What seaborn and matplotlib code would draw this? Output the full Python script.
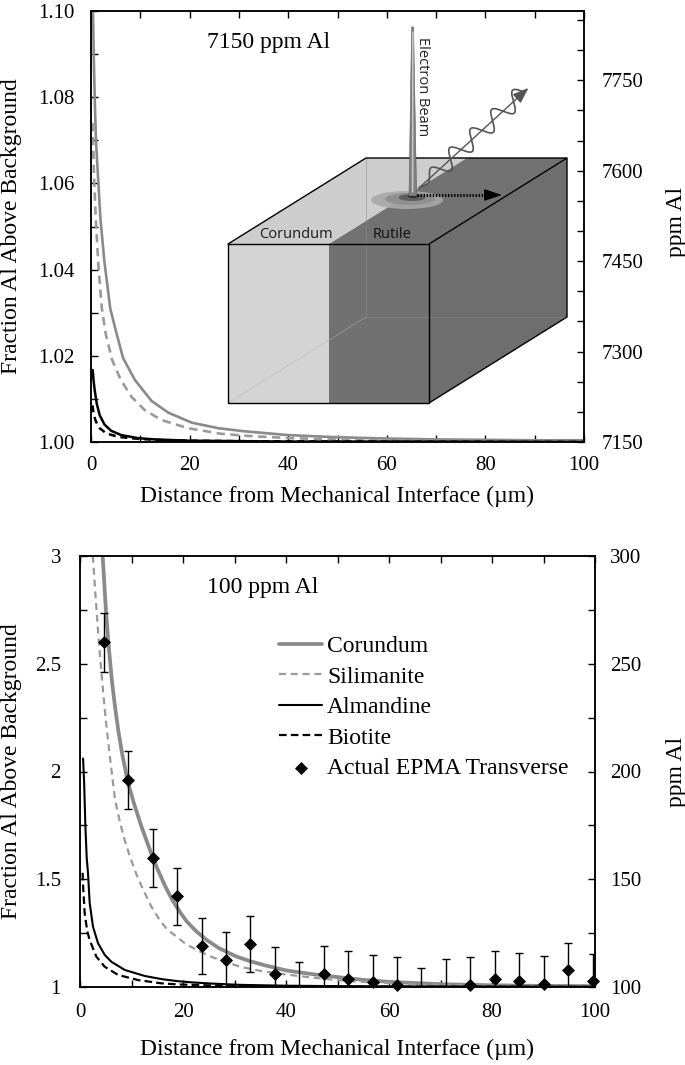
import numpy as np
import matplotlib
matplotlib.use("Agg")
import matplotlib.pyplot as plt
import seaborn as sns
from matplotlib.patches import Polygon, Ellipse

# ---------------- data: top panel (7150 ppm Al) ----------------
top_cor_x = [0.4, 0.55, 0.75, 1.0, 1.4, 1.9, 2.7, 3.9, 5.0, 6.5, 8.9, 12.3, 15.7, 20.4, 25.8, 31, 40, 50, 60, 70, 80, 90, 100]
top_cor_y = [1.10, 1.09, 1.08, 1.07, 1.062, 1.052, 1.042, 1.031, 1.026, 1.0195, 1.0144, 1.0095, 1.0068, 1.0045, 1.0032,
             1.0025, 1.0016, 1.0011, 1.0008, 1.0006, 1.0005, 1.0004, 1.0004]
top_sil_x = [0.3, 0.5, 0.7, 1.0, 1.5, 2.2, 3.0, 4.3, 6.0, 8.2, 10.9, 14.3, 19.7, 26.4, 32, 40, 50, 60, 70, 80, 100]
top_sil_y = [1.074, 1.066, 1.059, 1.051, 1.041, 1.031, 1.025, 1.019, 1.0145, 1.0105, 1.0074, 1.0051, 1.0032, 1.0019,
             1.0014, 1.0009, 1.0006, 1.0004, 1.0003, 1.0002, 1.0002]
top_alm_x = [0.35, 0.5, 0.74, 1.15, 1.76, 2.77, 4.1, 6.15, 9.5, 12.9, 20, 30, 40, 60, 100]
top_alm_y = [1.0167, 1.0145, 1.0121, 1.0090, 1.0062, 1.0040, 1.0026, 1.0016, 1.0009, 1.0006, 1.0003, 1.0002, 1.0001,
             1.0001, 1.0000]
top_bio_x = [0.3, 0.5, 0.88, 1.3, 1.76, 3.1, 5.5, 8.2, 12.9, 20, 30, 50, 100]
top_bio_y = [1.0085, 1.0068, 1.0051, 1.0040, 1.0032, 1.0020, 1.0012, 1.00085, 1.0005, 1.0003, 1.0002, 1.0001, 1.0000]

# ---------------- data: bottom panel (100 ppm Al) ----------------
bot_cor_x = [4.4, 5.0, 5.5, 6.2, 6.8, 7.5, 8.2, 9.3, 10.5, 12.0, 13.9, 15.0, 16.5, 18.0, 19.5, 20.7, 22.5, 24.6,
             27.0, 30.4, 33, 36, 40, 45, 50, 55, 60, 70, 80, 90, 100]
bot_cor_y = [3.0, 2.76, 2.60, 2.42, 2.30, 2.18, 2.08, 1.95, 1.85, 1.74, 1.615, 1.55, 1.47, 1.40, 1.345, 1.305,
             1.26, 1.218, 1.18, 1.141, 1.12, 1.10, 1.077, 1.06, 1.046, 1.033, 1.024, 1.013, 1.008, 1.005, 1.004]
bot_sil_x = [2.5, 3.0, 3.6, 4.3, 5.0, 5.8, 6.8, 7.8, 8.7, 9.7, 11.0, 12.3, 13.8, 15.5, 17.0, 18.8, 20.5, 22.7,
             25.0, 27.2, 31.1, 35, 40, 45, 50, 55, 60, 70, 80, 90, 100]
bot_sil_y = [3.0, 2.82, 2.62, 2.42, 2.24, 2.07, 1.87, 1.76, 1.68, 1.605, 1.52, 1.45, 1.375, 1.31, 1.265, 1.233,
             1.20, 1.172, 1.145, 1.125, 1.094, 1.075, 1.058, 1.044, 1.032, 1.024, 1.018, 1.010, 1.006, 1.004, 1.003]
bot_alm_x = [0.6, 0.8, 1.04, 1.3, 1.55, 1.88, 2.52, 3.5, 4.8, 6.1, 8.7, 12.6, 16, 19, 22, 25.5, 31, 40, 50, 70, 100]
bot_alm_y = [2.06, 1.95, 1.75, 1.60, 1.53, 1.39, 1.28, 1.203, 1.149, 1.117, 1.079, 1.051, 1.036, 1.027, 1.021,
             1.016, 1.010, 1.006, 1.004, 1.002, 1.001]
bot_bio_x = [0.5, 0.6, 0.9, 1.4, 1.88, 3.17, 4.8, 7.4, 11.3, 15.8, 19, 25.5, 35, 50, 100]
bot_bio_y = [1.53, 1.47, 1.345, 1.26, 1.218, 1.141, 1.094, 1.056, 1.032, 1.017, 1.012, 1.007, 1.004, 1.002, 1.0005]

epma_x = [4.7, 9.3, 14.1, 18.9, 23.7, 28.4, 33.1, 37.8, 42.6, 47.3, 52.1, 56.8, 61.6, 66.3, 71.1, 75.8, 80.6,
          85.3, 90.1, 94.8, 99.6]
epma_y = [2.60, 1.96, 1.60, 1.42, 1.19, 1.125, 1.20, 1.059, 0.96, 1.062, 1.039, 1.023, 1.008, 0.96, 0.96, 1.008,
          1.039, 1.028, 1.016, 1.077, 1.028]
epma_err = [0.137, 0.136, 0.135, 0.133, 0.13, 0.128, 0.13, 0.128, 0.156, 0.127, 0.128, 0.127, 0.131, 0.13, 0.17,
            0.131, 0.128, 0.13, 0.13, 0.129, 0.127]

legend_labels = ["Corundum", "Silimanite", "Almandine", "Biotite", "Actual EPMA Transverse"]

x_ticks = [0, 10, 20, 30, 40, 50, 60, 70, 80, 90, 100]
x_tick_labels = ["0", "", "20", "", "40", "", "60", "", "80", "", "100"]
top_y_ticks = [1.00, 1.01, 1.02, 1.03, 1.04, 1.05, 1.06, 1.07, 1.08, 1.09, 1.10]
top_y_tick_labels = ["1.00", "", "1.02", "", "1.04", "", "1.06", "", "1.08", "", "1.10"]
top_r_ticks = [7150, 7200, 7250, 7300, 7350, 7400, 7450, 7500, 7550, 7600, 7650, 7700, 7750, 7800, 7850]
top_r_tick_labels = ["7150", "", "", "7300", "", "", "7450", "", "", "7600", "", "", "7750", "", ""]
bot_y_ticks = [1.0, 1.25, 1.5, 1.75, 2.0, 2.25, 2.5, 2.75, 3.0]
bot_y_tick_labels = ["1", "", "1.5", "", "2", "", "2.5", "", "3"]
bot_r_ticks = [100, 125, 150, 175, 200, 225, 250, 275, 300]
bot_r_tick_labels = ["100", "", "150", "", "200", "", "250", "", "300"]

top_background = 7150
bot_background = 100

# ---------------- style ----------------
sns.set_theme(style="ticks")
plt.rcParams["font.family"] = ["Liberation Serif", "DejaVu Serif"]
plt.rcParams.update({
    "lines.scale_dashes": False,
    "axes.edgecolor": "black",
    "axes.linewidth": 1.1,
    "text.color": "black",
    "axes.labelcolor": "black",
    "xtick.color": "black",
    "ytick.color": "black",
})

GRAY = "#8a8a8a"
GRAY2 = "#9a9a9a"

fig = plt.figure(figsize=(6.85, 10.65), dpi=100)
ax_top = fig.add_axes([91 / 685, 1 - 442 / 1065, 493 / 685, 431 / 1065])
ax_bot = fig.add_axes([80 / 685, 1 - 987 / 1065, 515 / 685, 431 / 1065])


def style_axes(ax, yticks, ylabels, xpad, ypad):
    ax.set_xlim(0, 100)
    ax.set_xticks(x_ticks)
    ax.set_xticklabels(x_tick_labels)
    ax.set_yticks(yticks)
    ax.set_yticklabels(ylabels)
    ax.tick_params(axis="both", direction="in", length=5, width=1, labelsize=15)
    ax.tick_params(axis="x", top=True, pad=xpad)
    ax.tick_params(axis="y", right=False, pad=ypad)
    for s in ax.spines.values():
        s.set_visible(True)
        s.set_color("black")
        s.set_linewidth(1.1)
    ax.set_xlabel("Distance from Mechanical Interface (\u00b5m)", fontsize=17)
    ax.set_ylabel("Fraction Al Above Background", fontsize=17)


# ---------------- top panel ----------------
sns.lineplot(x=top_cor_x, y=top_cor_y, ax=ax_top, color=GRAY, lw=1.9, sort=False)
sns.lineplot(x=top_sil_x, y=top_sil_y, ax=ax_top, color=GRAY2, lw=1.9, sort=False)
ax_top.lines[-1].set_dashes((6, 4))
sns.lineplot(x=top_alm_x, y=top_alm_y, ax=ax_top, color="black", lw=1.8, sort=False)
sns.lineplot(x=top_bio_x, y=top_bio_y, ax=ax_top, color="black", lw=1.8, sort=False)
ax_top.lines[-1].set_dashes((5, 3.5))
ax_top.set_ylim(1.0, 1.10)
style_axes(ax_top, top_y_ticks, top_y_tick_labels, 10, 11.5)
ax_top.xaxis.set_label_coords(0.5, -0.102)
ax_top.yaxis.set_label_coords(-0.140, 0.5)
ax_top.text(0.235, 0.926, "7150 ppm Al", transform=ax_top.transAxes, fontsize=17, ha="left", va="center")
if ax_top.get_legend():
    ax_top.get_legend().remove()

ax_top2 = ax_top.twinx()
ax_top2.set_ylim(1.0 * top_background, 1.10 * top_background)
ax_top2.set_yticks(top_r_ticks)
ax_top2.set_yticklabels(top_r_tick_labels)
ax_top2.tick_params(axis="y", direction="in", length=5, width=1, labelsize=15, pad=12.5, right=True, left=False)
ax_top2.set_ylabel("ppm Al", fontsize=17, rotation=90)
ax_top2.yaxis.set_label_coords(1.166, 0.51)

# ---------------- bottom panel ----------------
sns.lineplot(x=bot_cor_x, y=bot_cor_y, ax=ax_bot, color=GRAY, lw=2.7, sort=False, label=legend_labels[0])
sns.lineplot(x=bot_sil_x, y=bot_sil_y, ax=ax_bot, color=GRAY2, lw=1.6, sort=False, label=legend_labels[1])
ax_bot.lines[-1].set_dashes((5, 3.5))
sns.lineplot(x=bot_alm_x, y=bot_alm_y, ax=ax_bot, color="black", lw=1.5, sort=False, label=legend_labels[2])
sns.lineplot(x=bot_bio_x, y=bot_bio_y, ax=ax_bot, color="black", lw=1.6, sort=False, label=legend_labels[3])
ax_bot.lines[-1].set_dashes((5.5, 3))

ax_bot.errorbar(epma_x, epma_y, yerr=epma_err, fmt="none", ecolor="black", elinewidth=1.0,
                capsize=3, capthick=1.0, zorder=3)
shown = [i for i, v in enumerate(epma_y) if v >= 0.97]
sns.scatterplot(x=[epma_x[i] for i in shown], y=[epma_y[i] for i in shown], ax=ax_bot, marker="D",
                s=44, color="black", linewidth=0, zorder=4, label=legend_labels[4], clip_on=False)
ax_bot.set_ylim(1.0, 3.0)
style_axes(ax_bot, bot_y_ticks, bot_y_tick_labels, 11.5, 13.7)
ax_bot.xaxis.set_label_coords(0.5, -0.121)
ax_bot.yaxis.set_label_coords(-0.1126, 0.5)
ax_bot.text(0.247, 0.928, "100 ppm Al", transform=ax_bot.transAxes, fontsize=17, ha="left", va="center")
ax_bot.legend(loc="upper left", bbox_to_anchor=(0.386, 0.815), frameon=False, fontsize=17,
              handlelength=1.85, handletextpad=0.2, labelspacing=0.38, borderaxespad=0, borderpad=0,
              scatterpoints=1)

ax_bot2 = ax_bot.twinx()
ax_bot2.set_ylim(1.0 * bot_background, 3.0 * bot_background)
ax_bot2.set_yticks(bot_r_ticks)
ax_bot2.set_yticklabels(bot_r_tick_labels)
ax_bot2.tick_params(axis="y", direction="in", length=5, width=1, labelsize=15, pad=11, right=True, left=False)
ax_bot2.set_ylabel("ppm Al", fontsize=17, rotation=90)
ax_bot2.yaxis.set_label_coords(1.138, 0.5)

# ---------------- inset illustration (figure pixel space) ----------------
ov = fig.add_axes([0, 0, 1, 1], zorder=5)
ov.set_xlim(0, 685)
ov.set_ylim(1065, 0)
ov.axis("off")
ov.patch.set_alpha(0)

fx0, fxm, fx1 = 228, 329, 429
fy0, fy1 = 244, 403
ddx, ddy = 138, -86


def poly(pts, fc, z=1):
    ov.add_patch(Polygon(pts, closed=True, fc=fc, ec="none", lw=0, zorder=z))


poly([(fx0, fy0), (fxm, fy0), (fxm + ddx, fy0 + ddy), (fx0 + ddx, fy0 + ddy)], "#cdcdcd")
poly([(fxm, fy0), (fx1, fy0), (fx1 + ddx, fy0 + ddy), (fxm + ddx, fy0 + ddy)], "#727272")
poly([(fx1, fy0), (fx1 + ddx, fy0 + ddy), (fx1 + ddx, fy1 + ddy), (fx1, fy1)], "#6e6e6e")
poly([(fx0, fy0), (fxm, fy0), (fxm, fy1), (fx0, fy1)], "#d4d4d4")
poly([(fxm, fy0), (fx1, fy0), (fx1, fy1), (fxm, fy1)], "#717171")
# hidden edges
hx, hy = fx0 + ddx, fy1 + ddy
ov.plot([hx, hx], [fy0 + ddy, hy], color="#8a8a8a", lw=0.6, alpha=0.6, zorder=2)
ov.plot([hx, fx1 + ddx], [hy, hy], color="#8a8a8a", lw=0.6, alpha=0.6, zorder=2)
ov.plot([hx, fx0], [hy, fy1], color="#b0b0b0", lw=0.6, alpha=0.6, zorder=2)
# outlines
ek = dict(color="black", lw=1.0, zorder=3, solid_joinstyle="miter")
ov.plot([fx0, fx1, fx1, fx0, fx0], [fy0, fy0, fy1, fy1, fy0], **ek)
ov.plot([fx0, fx0 + ddx, fx1 + ddx, fx1], [fy0, fy0 + ddy, fy0 + ddy, fy0], **ek)
ov.plot([fx1 + ddx, fx1 + ddx, fx1], [fy0 + ddy, fy1 + ddy, fy1], **ek)
ov.text(295.5, 234, "Corundum", fontsize=10.5, family=["Open Sans", "DejaVu Sans"], ha="center", va="center",
        color="#1a1a1a", zorder=4)
ov.text(391.7, 234, "Rutile", fontsize=10.5, family=["Open Sans", "DejaVu Sans"], ha="center", va="center",
        color="#111111", zorder=4)
# beam spot
for (cx, cy, w, h, c) in [(407, 200, 72, 18, "#a8a8a8"), (410, 199, 50, 12, "#8e8e8e"),
                          (412, 197.5, 27, 7, "#5a5a5a"), (413, 196, 10, 4, "#1e1e1e")]:
    ov.add_patch(Ellipse((cx, cy), w, h, fc=c, ec="none", zorder=4, alpha=0.9))
# electron beam
ov.add_patch(Polygon([(411.6, 27), (413.6, 27), (416.6, 196), (409.0, 196)], closed=True,
                     fc="#808080", ec="#5a5a5a", lw=0.4, zorder=5))
ov.plot([412.8, 412.6], [32, 192], color="#c8c8c8", lw=1.1, zorder=6)
ov.text(422.8, 87, "Electron Beam", rotation=270, fontsize=10.5, family=["Open Sans", "DejaVu Sans"],
        ha="center", va="center", color="#222222", zorder=6)
# dotted arrow
ov.plot([417, 491], [195, 195], color="black", lw=2.2, ls=(0, (1, 1.2)), zorder=6)
ov.annotate("", xy=(502, 195), xytext=(489, 195),
            arrowprops=dict(arrowstyle="-|>,head_length=0.9,head_width=0.3", color="black", lw=1.0,
                            shrinkA=0, shrinkB=0), zorder=6)
# X-ray wave
p0 = np.array([419.0, 188.0])
p1 = np.array([524.0, 92.0])
L = np.linalg.norm(p1 - p0)
u = (p1 - p0) / L
nrm = np.array([-u[1], u[0]])
t = np.linspace(0, 1, 400)
amp = 9.0 * np.clip(t * 5, 0, 1)
pts = p0[None, :] + (t * L)[:, None] * u[None, :] + (amp * np.sin(2 * np.pi * 5.0 * t))[:, None] * nrm[None, :]
ov.plot(pts[:, 0], pts[:, 1], color="#555555", lw=1.2, zorder=6)
ov.plot([p0[0], p1[0]], [p0[1], p1[1]], color="#555555", lw=1.0, zorder=6)
ov.annotate("", xy=(528.5, 88.0), xytext=(p1[0] - 6 * u[0], p1[1] - 6 * u[1]),
            arrowprops=dict(arrowstyle="-|>,head_length=0.8,head_width=0.3", color="#555555", lw=1.0,
                            shrinkA=0, shrinkB=0), zorder=6)

fig.savefig("out.png", dpi=100)
